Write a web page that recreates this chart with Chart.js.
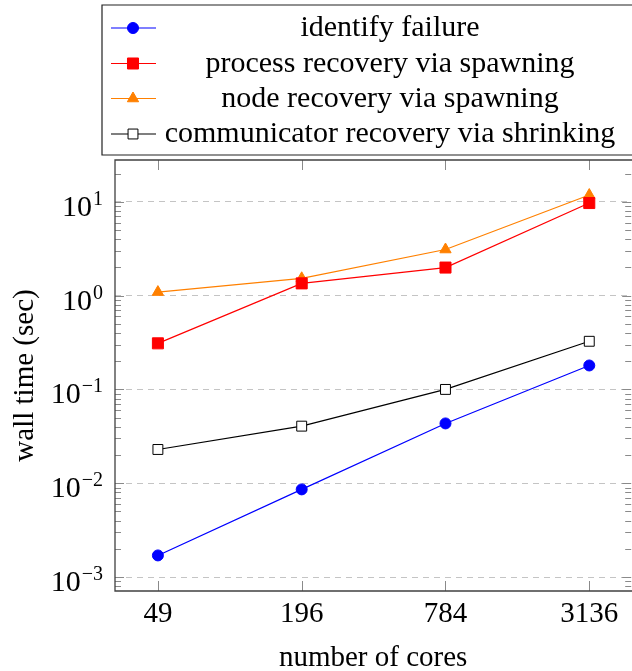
<!DOCTYPE html>
<html>
<head>
<meta charset="utf-8">
<script src="https://cdn.jsdelivr.net/npm/chart.js@4.4.1/dist/chart.umd.min.js"></script>
<style>
    html, body { margin: 0; padding: 0; background: #fff; overflow: hidden; }
    #wrap { width: 632px; height: 671px; overflow: hidden; position: relative; }
    #wallTimeChart { position: absolute; left: 0; top: 0; }
</style>
</head>
<body>
<div id="wrap"><canvas id="wallTimeChart" width="640" height="671"></canvas></div>
<script>
// ============================================================================
// DATA
// ============================================================================

const cores = [49, 196, 784, 3136];
const identifyFailure = [0.0017, 0.0086, 0.0434, 0.18];
const processSpawning = [0.31, 1.35, 1.99, 9.7];
const nodeSpawning = [1.09, 1.53, 3.1, 11.8];
const commShrinking = [0.0229, 0.0406, 0.1, 0.326];

const yTickValues = [1e-3, 1e-2, 1e-1, 1, 10];
const yTickExponents = ['\u22123', '\u22122', '\u22121', '0', '1'];

const FONT = '"Liberation Serif", "DejaVu Serif", serif';

function toPoints(values) {
    return values.map((v, i) => ({ x: cores[i], y: v }));
}

// ============================================================================
// PLUGINS
// ============================================================================

// frame + inside tick marks (pgfplots look)
const frameTicks = {
    id: 'frameTicks',
    beforeDatasetsDraw(chart) {
        const { ctx, chartArea: a, scales: { x, y } } = chart;
        const rightEdge = Math.min(a.right, 632);
        ctx.save();

        // minor + major y ticks, left and right
        ctx.strokeStyle = '#8a8a8a';
        ctx.lineWidth = 1;
        ctx.beginPath();
        for (let e = -4; e <= 1; e++) {
            for (let k = 1; k <= 9; k++) {
                const v = k * Math.pow(10, e);
                if (v < y.min || v > y.max) continue;
                const py = Math.round(y.getPixelForValue(v)) + 0.5;
                const len = k === 1 ? 9 : 6;
                ctx.moveTo(a.left, py); ctx.lineTo(a.left + len, py);
                ctx.moveTo(rightEdge, py); ctx.lineTo(rightEdge - len, py);
            }
        }
        // x ticks, bottom and top
        cores.forEach(c => {
            const px = Math.round(x.getPixelForValue(c)) + 0.5;
            ctx.moveTo(px, a.bottom); ctx.lineTo(px, a.bottom - 10);
            ctx.moveTo(px, a.top); ctx.lineTo(px, a.top + 10);
        });
        ctx.stroke();

        // frame: the right side lies past the picture edge
        ctx.strokeStyle = '#404040';
        ctx.lineWidth = 1.3;
        ctx.beginPath();
        ctx.moveTo(640, a.top);
        ctx.lineTo(a.left, a.top);
        ctx.lineTo(a.left, a.bottom);
        ctx.lineTo(640, a.bottom);
        ctx.stroke();
        ctx.restore();
    },
    afterDraw(chart) {
        const { ctx, scales: { y } } = chart;
        ctx.save();
        ctx.fillStyle = '#000';
        ctx.textAlign = 'right';
        ctx.textBaseline = 'alphabetic';
        y.ticks.forEach((t, i) => {
            const py = y.getPixelForValue(t.value);
            const exp = yTickExponents[i];
            ctx.font = '20px ' + FONT;
            const ew = ctx.measureText(exp).width;
            ctx.fillText(exp, 103, py + 3);
            ctx.font = '30px ' + FONT;
            ctx.fillText('10', 103 - ew - 1, py + 14);
        });
        ctx.restore();
    }
};

// boxed legend with centered labels
const boxLegend = {
    id: 'boxLegend',
    afterDraw(chart) {
        const ctx = chart.ctx;
        const baselines = [36, 71.5, 106.5, 142];
        ctx.save();
        ctx.fillStyle = '#fff';
        ctx.fillRect(102, 5, 600, 150);
        ctx.strokeStyle = '#222';
        ctx.lineWidth = 1.2;
        ctx.beginPath();
        ctx.moveTo(640, 5);
        ctx.lineTo(102, 5);
        ctx.lineTo(102, 155);
        ctx.lineTo(640, 155);
        ctx.stroke();

        chart.data.datasets.forEach((ds, i) => {
            const yc = baselines[i] - 8;
            ctx.strokeStyle = ds.borderColor;
            ctx.lineWidth = 1.2;
            ctx.beginPath();
            ctx.moveTo(111, yc);
            ctx.lineTo(156, yc);
            ctx.stroke();

            ctx.fillStyle = ds.pointBackgroundColor;
            ctx.strokeStyle = ds.borderColor;
            ctx.lineWidth = ds.pointBorderWidth;
            Chart.helpers.drawPoint(ctx, {
                pointStyle: ds.pointStyle,
                radius: ds.pointRadius,
                borderWidth: ds.pointBorderWidth,
                rotation: 0
            }, 133, yc);

            ctx.fillStyle = '#000';
            ctx.font = '30px ' + FONT;
            ctx.textAlign = 'center';
            ctx.textBaseline = 'alphabetic';
            ctx.fillText(ds.label, 390, baselines[i]);
        });
        ctx.restore();
    }
};

// ============================================================================
// CHART
// ============================================================================

function makeDataset(label, values, color, style, radius, fill) {
    return {
        label: label,
        data: toPoints(values),
        borderColor: color,
        backgroundColor: fill,
        borderWidth: 1.2,
        pointStyle: style,
        pointRadius: radius,
        pointHoverRadius: radius,
        pointBackgroundColor: fill,
        pointBorderColor: color,
        pointBorderWidth: 1,
        tension: 0
    };
}

const chart = new Chart(document.getElementById('wallTimeChart'), {
    type: 'line',
    data: {
        datasets: [
            makeDataset('identify failure', identifyFailure, '#0000ff', 'circle', 5.5, '#0000ff'),
            makeDataset('process recovery via spawning', processSpawning, '#ff0000', 'rect', 7.8, '#ff0000'),
            makeDataset('node recovery via spawning', nodeSpawning, '#ff8000', 'triangle', 6.5, '#ff8000'),
            makeDataset('communicator recovery via shrinking', commShrinking, '#000000', 'rect', 7, '#ffffff')
        ]
    },
    options: {
        responsive: false,
        animation: false,
        devicePixelRatio: 1,
        layout: { padding: { top: 160, right: 4, left: 0, bottom: 0 } },
        plugins: {
            legend: { display: false },
            tooltip: { enabled: false }
        },
        scales: {
            x: {
                type: 'logarithmic',
                min: 32.4,
                max: 4698,
                afterBuildTicks: scale => {
                    scale.ticks = cores.map(c => ({ value: c }));
                },
                afterFit: scale => { scale.height = 80; },
                grid: { display: false, drawTicks: false },
                border: { display: false },
                ticks: {
                    color: '#000',
                    font: { family: FONT, size: 29 },
                    padding: 6,
                    maxRotation: 0,
                    autoSkip: false,
                    callback: value => String(value)
                },
                title: {
                    display: true,
                    text: 'number of cores',
                    color: '#000',
                    font: { family: FONT, size: 29, lineHeight: 0.9 },
                    padding: 0
                }
            },
            y: {
                type: 'logarithmic',
                min: 7.1e-4,
                max: 27.9,
                afterBuildTicks: scale => {
                    scale.ticks = yTickValues.map(v => ({ value: v, major: true }));
                },
                afterFit: scale => { scale.width = 115; },
                grid: { color: '#c4c4c4', lineWidth: 1, drawTicks: false },
                border: { display: false, dash: [6, 5] },
                ticks: { display: false },
                title: {
                    display: true,
                    text: 'wall time (sec)',
                    color: '#000',
                    font: { family: FONT, size: 29 },
                    padding: { top: 8, bottom: 0 }
                }
            }
        }
    },
    plugins: [frameTicks, boxLegend]
});
</script>
</body>
</html>
